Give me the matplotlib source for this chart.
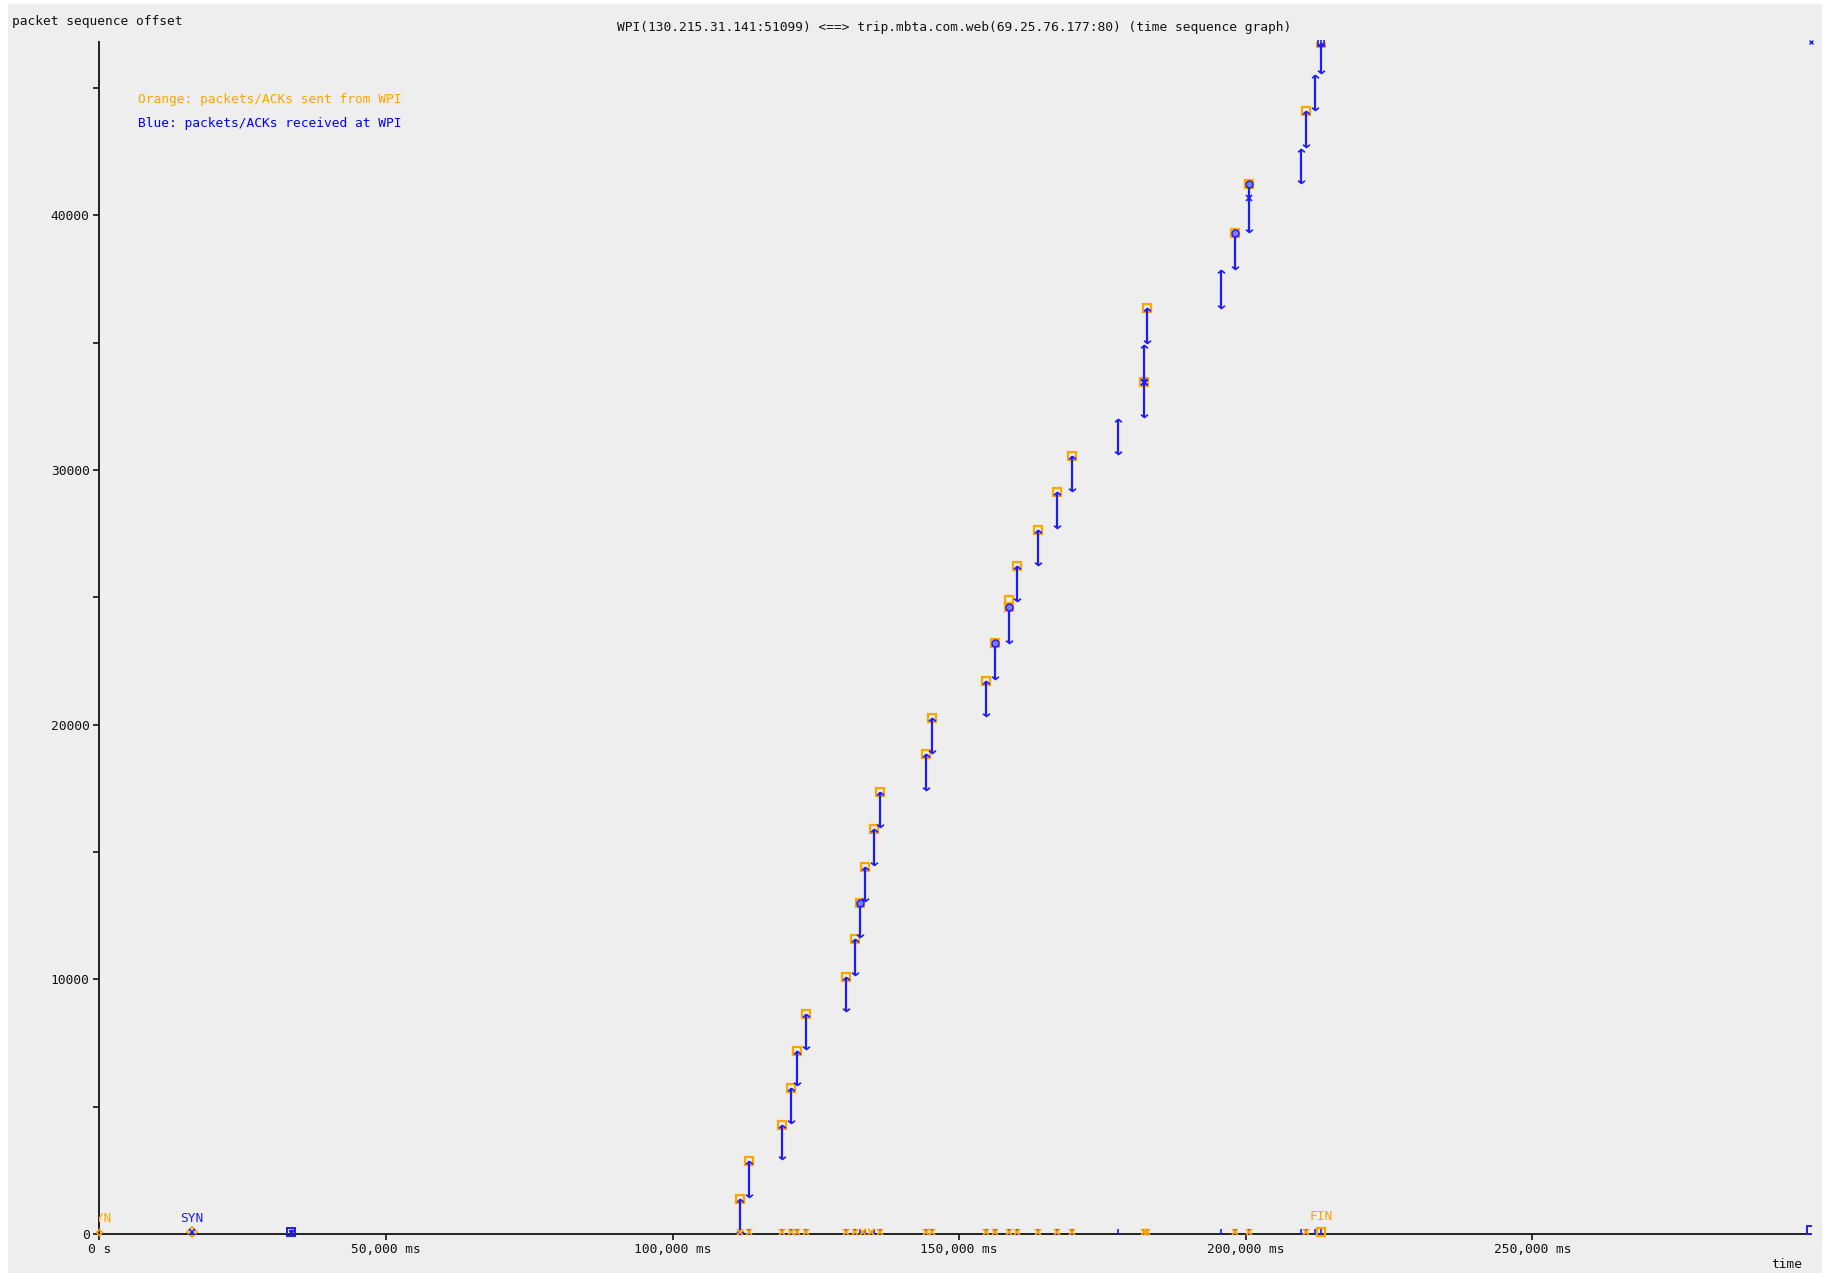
import matplotlib
matplotlib.use("Agg")
from matplotlib import pyplot as plt
from matplotlib.path import Path
from matplotlib.patches import Rectangle
from matplotlib.transforms import offset_copy

# received data segments (time in ms, sequence offset low/high)
seg_time_ms = [111720, 113350, 119110, 120680, 121720, 123290, 130270, 131840,
               132720, 133590, 135160, 136210, 144240, 145290, 154710, 156280,
               158720, 160120, 163780, 167100, 169710, 177740, 182280, 182280,
               182800, 195710, 198150, 200590, 209660, 210540, 212110, 213150]
seg_lo = [0, 1450, 2940, 4360, 5850, 7260, 8750, 10170, 11660, 13070, 14480,
          15970, 17430, 18880, 20330, 21780, 23200, 24850, 26260, 27710, 29160,
          30620, 32070, 33440, 34970, 36350, 37880, 39330, 41250, 42670, 44120,
          45570]
seg_hi = [1370, 2870, 4280, 5730, 7180, 8640, 10090, 11580, 12990, 14410, 15900,
          17350, 18840, 20250, 21710, 23200, 24610, 26220, 27630, 29120, 30540,
          31990, 33440, 34890, 36350, 37840, 39290, 41210, 42590, 44080, 45490,
          46750]
# 1 = orange box drawn on top of the segment
seg_boxed = [1, 1, 1, 1, 1, 1, 1, 1, 1, 1, 1, 1, 1, 1, 1, 1,
             1, 1, 1, 1, 1, 0, 1, 0, 1, 0, 1, 1, 0, 1, 0, 1]

# ACKs sent from WPI (orange x on the baseline)
ack_time_ms = [111720, 113350, 119110, 120680, 121720, 123290, 130270, 131840,
               133200, 134600, 136210, 144240, 145290, 154710, 156280, 158720,
               160120, 163780, 167100, 169710, 182280, 182800, 198150, 200590,
               210540]

circ_time_ms = [132720, 156280, 158720, 198150, 200590]
circ_seq = [12990, 23200, 24610, 39290, 41210]
bluex_time_ms = [182280, 200590]
bluex_seq = [33440, 40660]
extra_box_time_ms = [158720]
extra_box_seq = [24880]

syn_out_ms = 0
syn_in_ms = 16170
blue_box_ms = 33440
fin_ms = 213150

xmax_ms = 298600
ymax_seq = 46800

xtick_vals = [0, 50000, 100000, 150000, 200000, 250000]
xtick_labels = ["0 s", "50,000 ms", "100,000 ms", "150,000 ms", "200,000 ms", "250,000 ms"]
ytick_vals = [0, 10000, 20000, 30000, 40000]
ytick_labels = ["0", "10000", "20000", "30000", "40000"]
ytick_minor = [5000, 15000, 25000, 35000, 45000]

title = "WPI(130.215.31.141:51099) <==> trip.mbta.com.web(69.25.76.177:80) (time sequence graph)"

ORANGE = "#ffa500"
BLUE = "#1c1cff"

plt.rcParams['font.family'] = ['DejaVu Sans Mono', 'DejaVu Sans']
plt.rcParams['font.size'] = 9.3

W, H = 1836, 1273
fig = plt.figure(figsize=(W / 100, H / 100), dpi=100)
fig.patches.append(Rectangle((8 / W, 0), (1822 - 8) / W, 1 - 4 / H,
                             transform=fig.transFigure, facecolor="#eeeeee",
                             edgecolor="none", zorder=-10))

ax = fig.add_axes([99.3 / W, (H - 1234) / H, (1811 - 99.3) / W, (1234 - 42) / H])
ax.set_facecolor("none")
ax.set_xlim(0, xmax_ms)
ax.set_ylim(0, ymax_seq)
for side in ["top", "right"]:
    ax.spines[side].set_visible(False)
for side in ["left", "bottom"]:
    ax.spines[side].set_linewidth(1.3)
    ax.spines[side].set_color("#111111")

ax.set_xticks(xtick_vals)
ax.set_xticklabels(xtick_labels)
ax.set_yticks(ytick_vals)
ax.set_yticklabels(ytick_labels)
ax.set_yticks(ytick_minor, minor=True)
ax.tick_params(axis="x", direction="out", length=4, width=1.2, pad=2.5, colors="#111111")
ax.tick_params(axis="y", which="both", direction="out", length=4, width=1.2, pad=3, colors="#111111")

# arrow heads
up = Path([(-1, -0.8), (0, 0), (1, -0.8)])
down = Path([(-1, 0.8), (0, 0), (1, 0.8)])
sha = Path([(-1, 1), (-1, -1), (1, -1), (1, 1), (0, 1), (0, -1)],
           [Path.MOVETO, Path.LINETO, Path.LINETO, Path.LINETO, Path.MOVETO, Path.LINETO])

box_t = [t for t, b in zip(seg_time_ms, seg_boxed) if b]
box_s = [s for s, b in zip(seg_hi, seg_boxed) if b]
ax.plot(box_t, box_s, ls="none", marker="s", ms=6, mfc="none", mec=ORANGE, mew=1.6, zorder=2)
ax.plot(extra_box_time_ms, extra_box_seq, ls="none", marker="s", ms=6, mfc="none",
        mec=ORANGE, mew=1.6, zorder=2)

ax.vlines(seg_time_ms, seg_lo, seg_hi, colors=BLUE, lw=1.6, zorder=3)
ax.plot(seg_time_ms, seg_hi, ls="none", marker=up, ms=5, mfc="none", mec=BLUE, mew=1.2, zorder=3)
ax.plot(seg_time_ms, seg_lo, ls="none", marker=down, ms=5, mfc="none", mec=BLUE, mew=1.2,
        zorder=3, clip_on=False)

ax.plot(circ_time_ms, circ_seq, ls="none", marker="o", ms=5, mfc="#7a7aff", mec=BLUE,
        mew=1.0, zorder=4)
ax.plot(bluex_time_ms, bluex_seq, ls="none", marker="x", ms=4, mec=BLUE, mew=1.2, zorder=4)
ax.plot([fin_ms], [seg_hi[-1]], ls="none", marker=sha, ms=5, mfc="none", mec=BLUE,
        mew=1.2, zorder=4, clip_on=False)

# baseline marks
lift = offset_copy(ax.transData, fig=fig, x=0, y=2, units="dots")
ax.plot(seg_time_ms, [0] * len(seg_time_ms), ls="none", marker="|", ms=4, mec=BLUE,
        mew=1.2, transform=lift, zorder=4, clip_on=False)
ax.plot(ack_time_ms, [0] * len(ack_time_ms), ls="none", marker="x", ms=5, mec=ORANGE,
        mew=1.3, transform=lift, zorder=5, clip_on=False)

ax.plot([syn_out_ms], [0], ls="none", marker="D", ms=3, mfc="none", mec=ORANGE, mew=1.2,
        transform=lift, zorder=5, clip_on=False)
ax.plot([syn_in_ms], [0], ls="none", marker="D", ms=5, mfc="none", mec=ORANGE, mew=1.3,
        transform=lift, zorder=5, clip_on=False)
ax.plot([syn_in_ms], [0], ls="none", marker="x", ms=4, mec=BLUE, mew=1.2,
        transform=lift, zorder=6, clip_on=False)
ax.plot([blue_box_ms], [0], ls="none", marker="s", ms=6, mfc="none", mec=BLUE, mew=1.4,
        transform=lift, zorder=5, clip_on=False)
ax.plot([blue_box_ms], [0], ls="none", marker="v", ms=3, color=BLUE,
        transform=lift, zorder=5, clip_on=False)
ax.plot([fin_ms], [0], ls="none", marker="s", ms=6, mfc="none", mec=ORANGE, mew=1.6,
        transform=lift, zorder=5, clip_on=False)
ax.plot([xmax_ms], [0], ls="none", marker="s", ms=6, mfc="none", mec=BLUE, mew=1.4,
        transform=offset_copy(ax.transData, fig=fig, x=0, y=4, units="dots"), zorder=5)
ax.plot([xmax_ms], [ymax_seq], ls="none", marker="x", ms=3, mec=BLUE, mew=1.0,
        zorder=5, clip_on=False)

ax.annotate("SYN", xy=(syn_out_ms, 0), xytext=(0, 15), textcoords="offset pixels",
            ha="center", va="center", color=ORANGE, clip_on=True, annotation_clip=False)
ax.annotate("SYN", xy=(syn_in_ms, 0), xytext=(0, 15), textcoords="offset pixels",
            ha="center", va="center", color=BLUE, annotation_clip=False)
ax.annotate("FIN", xy=(fin_ms, 0), xytext=(0, 18), textcoords="offset pixels",
            ha="center", va="center", color=ORANGE, annotation_clip=False)

fig.text(12 / W, 1 - 22 / H, "packet sequence offset", ha="left", va="center", color="#111111")
fig.text(954 / W, 1 - 28 / H, title, ha="center", va="center", color="#111111")
fig.text(1787 / W, 1 - 1265 / H, "time", ha="center", va="center", color="#111111")
fig.text(138 / W, 1 - 99 / H, "Orange: packets/ACKs sent from WPI", ha="left", va="center",
         color=ORANGE)
fig.text(138 / W, 1 - 123 / H, "Blue: packets/ACKs received at WPI", ha="left", va="center",
         color="#0000ff")

fig.savefig("out.png", dpi=100)
